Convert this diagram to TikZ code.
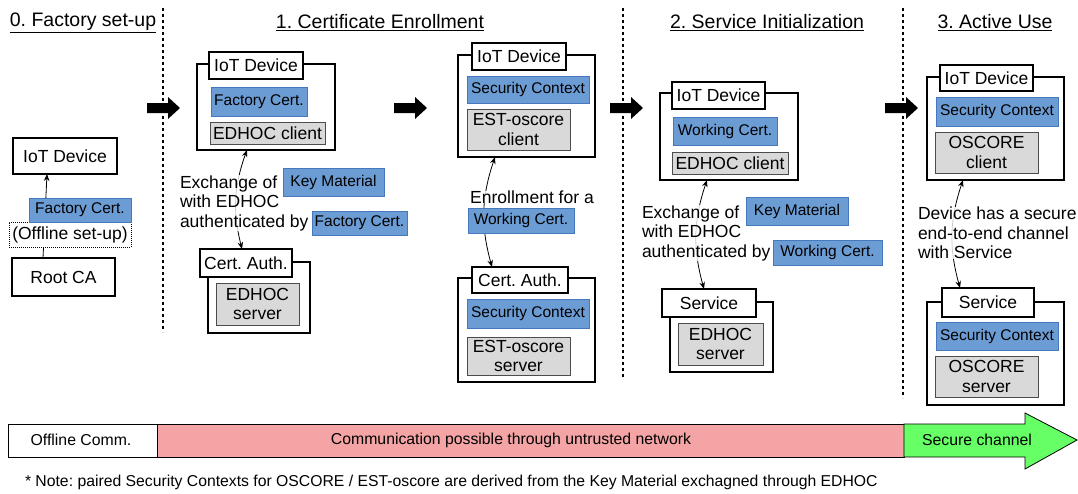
\documentclass[tikz,border=0pt]{standalone}
\usepackage{fontspec}
\setmainfont{Liberation Sans}
\frenchspacing
\usetikzlibrary{arrows.meta}
\definecolor{certblue}{RGB}{108,156,212}
\definecolor{certborder}{RGB}{70,120,190}
\definecolor{modgray}{RGB}{217,217,217}
\definecolor{untrusted}{RGB}{244,164,164}
\definecolor{securegreen}{RGB}{102,255,102}
\tikzset{
  every node/.style={inner sep=0pt, outer sep=0pt},
  heading/.style={font=\fontsize{19.5}{22}\selectfont},
  container/.style={draw=black, line width=1.6pt, fill=white},
  tabbox/.style={draw=black, line width=1.6pt, fill=white, font=\fontsize{17.5}{20}\selectfont},
  plainbox/.style={draw=black, line width=1.6pt, fill=white, font=\fontsize{17.5}{20}\selectfont},
  dotbox/.style={draw=black, line width=0.6pt, dash pattern=on 1pt off 1pt, fill=white, font=\fontsize{17.5}{20}\selectfont},
  bluebox/.style={draw=certborder, line width=0.6pt, fill=certblue, font=\fontsize{15.5}{18}\selectfont},
  graybox/.style={draw=black!70, line width=1pt, fill=modgray, font=\fontsize{17.5}{19.5}\selectfont, align=center},
  caption/.style={font=\fontsize{17.5}{19.5}\selectfont, align=left, fill=white, fill opacity=0.8, text opacity=1},
  divider/.style={line width=1.8pt, dash pattern=on 3pt off 3pt},
  blockarrow/.style={fill=black},
  link/.style={line width=0.8pt, {Stealth[length=7pt,width=5.5pt]}-{Stealth[length=7pt,width=5.5pt]}},
  onelink/.style={line width=0.8pt, -{Stealth[length=7pt,width=5.5pt]}},
  barbox/.style={draw=black, line width=0.8pt},
  bartext/.style={font=\fontsize{15.8}{18}\selectfont},
  notetext/.style={font=\fontsize{15.75}{18}\selectfont, anchor=west}
}
\newcommand\bx[7]{\node[#1, minimum width={#4-#2}, minimum height={#5-#3}] (#6) at ({(#2+#4)/2},{(#3+#5)/2}) {#7};}
\newcommand\blockarr[2]{\fill[blockarrow] (#1,#2-5) -- (#1+21,#2-5) -- (#1+21,#2-11) -- (#1+33,#2) -- (#1+21,#2+11) -- (#1+21,#2+5) -- (#1,#2+5) -- cycle;}
\begin{document}
\begin{tikzpicture}[x=1pt,y=-1pt]
\useasboundingbox (0,0) rectangle (1078,493);
% headings
\node[heading] (h0) at (83,23) {\underline{0. Factory set-up}};
\node[heading] (h1) at (380,23) {\underline{1. Certificate Enrollment}};
\node[heading] (h2) at (767,23) {\underline{2. Service Initialization}};
\node[heading] (h3) at (995,23) {\underline{3. Active Use}};
% dividers
\draw[divider] (163,8) -- (163,332);
\draw[divider] (623,8) -- (623,378);
\draw[divider] (903,8) -- (903,398);
% block arrows
\blockarr{147}{108}
\blockarr{394}{108}
\blockarr{610}{108}
\blockarr{885}{108}
% ---- stage 0
\bx{plainbox}{13}{138}{117}{174}{iot0}{IoT Device}
\bx{plainbox}{12}{258}{115}{296}{root0}{Root CA}
\draw[onelink] ([xshift=-20.5pt]root0.north) -- ([xshift=-18pt]iot0.south);
\bx{dotbox}{9}{222}{131}{247}{off0}{(Offline set-up)}
\bx{bluebox}{29}{198}{131}{222}{fc0}{Factory Cert.}
% ---- stage 1, first pair
\bx{container}{197}{64}{335}{150}{dev1}{}
\bx{tabbox}{209}{52}{303}{79}{dev1t}{IoT Device}
\bx{bluebox}{211}{87}{307}{116}{fc1}{Factory Cert.}
\bx{graybox}{210}{122}{325}{144}{ec1}{EDHOC client}
\bx{container}{208}{262}{310}{333}{ca1}{}
\bx{tabbox}{200}{249}{292}{277}{ca1t}{Cert. Auth.}
\bx{graybox}{216}{283}{299}{325}{es1}{EDHOC\\server}
\draw[link] ([xshift=-19pt]dev1.south) to[bend right=17] ([xshift=-4pt]ca1t.north);
\node[caption, anchor=west] (t1) at (180,203) {Exchange of\\with EDHOC\\authenticated by};
\bx{bluebox}{283}{168}{384}{196}{km1}{Key Material}
\bx{bluebox}{312}{211}{407}{235}{fc1b}{Factory Cert.}
% ---- stage 1, second pair
\bx{container}{458}{55}{595}{157}{dev2}{}
\bx{tabbox}{472}{43}{566}{70}{dev2t}{IoT Device}
\bx{bluebox}{467}{76}{589}{103}{sc2}{Security Context}
\bx{graybox}{467}{109}{570}{150}{est2}{EST-oscore\\client}
\bx{container}{458}{278}{595}{382}{ca2}{}
\bx{tabbox}{472}{267}{568}{293}{ca2t}{Cert. Auth.}
\bx{bluebox}{467}{299}{589}{328}{sc2b}{Security Context}
\bx{graybox}{467}{337}{570}{375}{ests2}{EST-oscore\\server}
\draw[link] ([xshift=-31.5pt]dev2.south) to[bend right=17] ([xshift=-28pt]ca2t.north);
\node[caption] (t2) at (532,197) {Enrollment for a};
\bx{bluebox}{468}{208}{574}{233}{wc2}{Working Cert.}
% ---- stage 2
\bx{container}{660}{93}{798}{180}{dev3}{}
\bx{tabbox}{672}{82}{765}{109}{dev3t}{IoT Device}
\bx{bluebox}{673}{117}{777}{145}{wc3}{Working Cert.}
\bx{graybox}{672}{152}{788}{174}{ec3}{EDHOC client}
\bx{container}{670}{302}{773}{372}{svc3}{}
\bx{tabbox}{662}{289}{756}{317}{svc3t}{Service}
\bx{graybox}{678}{323}{763}{365}{es3}{EDHOC\\server}
\draw[link] ([xshift=-22pt]dev3.south) to[bend right=17] ([xshift=-5pt]svc3t.north);
\node[caption, anchor=west] (t3) at (642,233) {Exchange of\\with EDHOC\\authenticated by};
\bx{bluebox}{746}{197}{848}{225}{km3}{Key Material}
\bx{bluebox}{773}{240}{882}{265}{wc3b}{Working Cert.}
% ---- stage 3
\bx{container}{927}{77}{1064}{180}{dev4}{}
\bx{tabbox}{940}{65}{1033}{91}{dev4t}{IoT Device}
\bx{bluebox}{936}{97}{1058}{126}{sc4}{Security Context}
\bx{graybox}{935}{132}{1038}{173}{oc4}{OSCORE\\client}
\bx{container}{927}{302}{1064}{405}{svc4}{}
\bx{tabbox}{942}{288}{1034}{317}{svc4t}{Service}
\bx{bluebox}{936}{322}{1058}{350}{sc4b}{Security Context}
\bx{graybox}{935}{356}{1038}{397}{os4}{OSCORE\\server}
\draw[link] ([xshift=-32.5pt]dev4.south) to[bend right=17] ([xshift=-28pt]svc4t.north);
\node[caption, anchor=west] (t4) at (918,233) {Device has a secure\\end-to-end channel\\with Service};
% ---- bottom bar
\bx{barbox, fill=white}{8}{424}{157}{457}{offc}{}
\bx{barbox, fill=untrusted}{157}{424}{904}{457}{untr}{}
\filldraw[fill=securegreen, draw=black, line width=0.8pt] (904,424) -- (1025,424) -- (1025,413) -- (1077,440) -- (1025,469) -- (1025,457) -- (904,457) -- cycle;
\node[bartext] (offct) at (81,440) {Offline Comm.};
\node[bartext] (untrt) at (511,440) {Communication possible through untrusted network};
\node[bartext] (sec) at (977,440) {Secure channel};
\node[notetext] (note) at (25,482) {* Note: paired Security Contexts for OSCORE / EST-oscore are derived from the Key Material exchagned through EDHOC};
\end{tikzpicture}
\end{document}
